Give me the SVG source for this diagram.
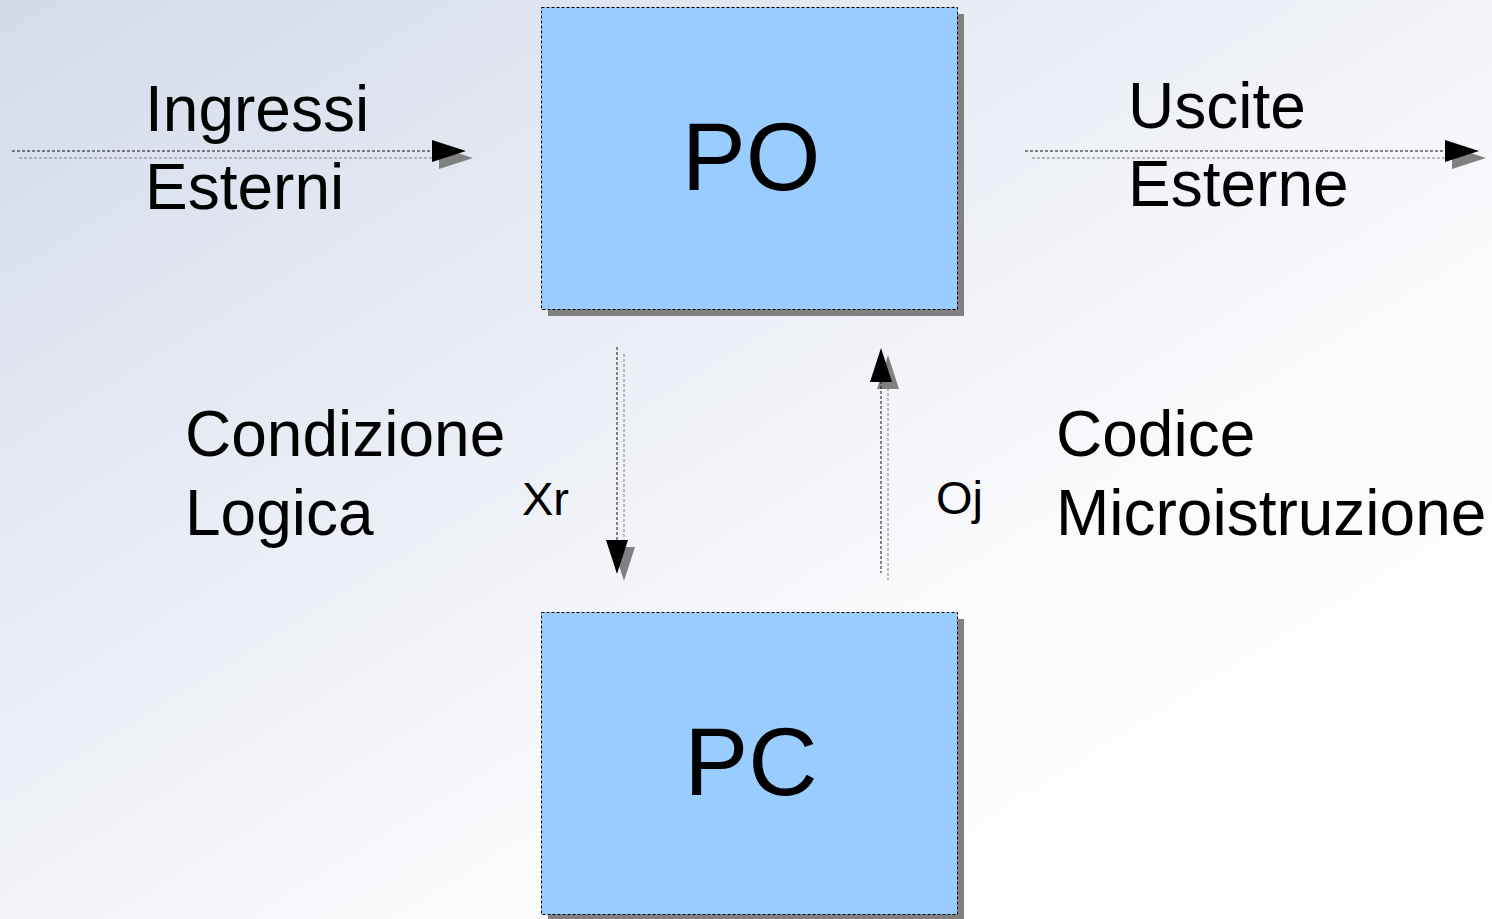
<svg xmlns="http://www.w3.org/2000/svg" width="1492" height="919" viewBox="0 0 1492 919">
<defs>
<linearGradient id="bg" x1="0" y1="0" x2="1" y2="1" gradientUnits="objectBoundingBox">
<stop offset="0" stop-color="#d3dbea"/>
<stop offset="0.65" stop-color="#fbfbfd"/>
<stop offset="1" stop-color="#ffffff"/>
</linearGradient>
<style>
.box{fill:#99ccff;stroke:#000;stroke-width:1;stroke-dasharray:3 2}
.shadow{fill:#808080}
.line{fill:none;stroke:#111;stroke-width:1;stroke-dasharray:3 2}
.lineS{fill:none;stroke:#808080;stroke-width:1;stroke-dasharray:3 2}
.head{fill:#000}
.headS{fill:#808080}
.t{font-family:"Liberation Sans",Arial,sans-serif;fill:#000}
.big{font-size:96px}
.lab{font-size:64px}
.sm{font-size:47px}
</style>
</defs>
<rect x="0" y="0" width="1492" height="919" fill="url(#bg)"/>
<g id="connectors">
<g id="in-arrow">
<line class="lineS" x1="19" y1="158" x2="440" y2="158"/>
<polygon class="headS" points="439,147 473,158 439,169"/>
<line class="line" x1="12" y1="151" x2="433" y2="151"/>
<polygon class="head" points="432,140 466,151 432,162"/>
</g>
<g id="out-arrow">
<line class="lineS" x1="1032" y1="158" x2="1453" y2="158"/>
<polygon class="headS" points="1452,147 1486,158 1452,169"/>
<line class="line" x1="1025" y1="151" x2="1446" y2="151"/>
<polygon class="head" points="1445,140 1479,151 1445,162"/>
</g>
<g id="xr-arrow">
<line class="lineS" x1="624" y1="354" x2="624" y2="548"/>
<polygon class="headS" points="613,547 635,547 624,581"/>
<line class="line" x1="617" y1="347" x2="617" y2="541"/>
<polygon class="head" points="606,540 628,540 617,574"/>
</g>
<g id="oj-arrow">
<line class="lineS" x1="888" y1="388" x2="888" y2="580"/>
<polygon class="headS" points="877,389 899,389 888,355"/>
<line class="line" x1="881" y1="381" x2="881" y2="573"/>
<polygon class="head" points="870,382 892,382 881,348"/>
</g>
</g>
<g id="PO">
<rect class="shadow" x="548" y="14" width="416" height="302"/>
<rect class="box" x="541.5" y="7.5" width="416" height="302"/>
<text class="t big" x="751" y="190" text-anchor="middle">PO</text>
</g>
<g id="PC">
<rect class="shadow" x="548" y="619" width="416" height="302"/>
<rect class="box" x="541.5" y="612.5" width="416" height="302"/>
<text class="t big" x="751" y="795" text-anchor="middle">PC</text>
</g>
<g id="label-ingressi">
<text class="t lab" x="145" y="131">Ingressi</text>
<text class="t lab" x="145" y="209">Esterni</text>
</g>
<g id="label-uscite">
<text class="t lab" x="1128" y="128">Uscite</text>
<text class="t lab" x="1128" y="206">Esterne</text>
</g>
<g id="label-condizione">
<text class="t lab" x="185" y="456">Condizione</text>
<text class="t lab" x="185" y="535">Logica</text>
</g>
<g id="label-codice">
<text class="t lab" x="1056" y="456">Codice</text>
<text class="t lab" x="1056" y="535">Microistruzione</text>
</g>
<text id="label-xr" class="t sm" x="522" y="515">Xr</text>
<text id="label-oj" class="t sm" x="936" y="514">Oj</text>
</svg>
